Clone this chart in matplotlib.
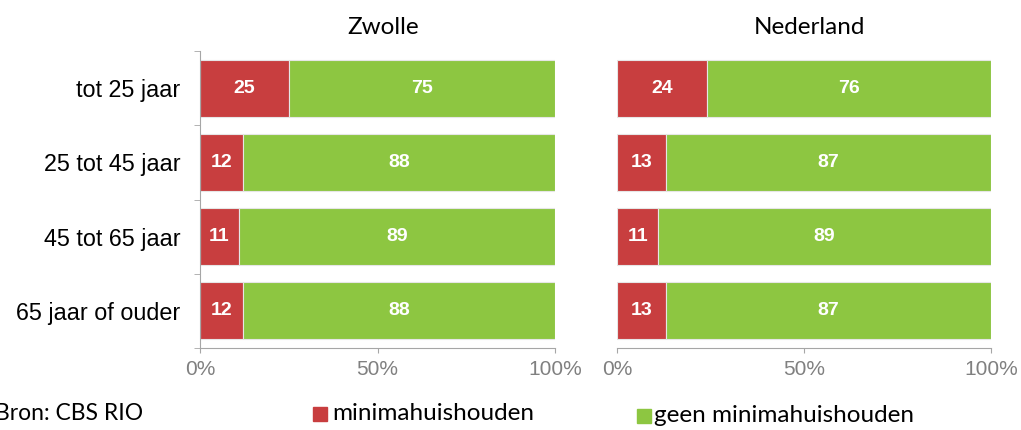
import matplotlib
matplotlib.use("Agg")
import matplotlib.pyplot as plt
import numpy as np

categories = ["tot 25 jaar", "25 tot 45 jaar", "45 tot 65 jaar", "65 jaar of ouder"]
zwolle_min = [25, 12, 11, 12]
zwolle_geen = [75, 88, 89, 88]
nl_min = [24, 13, 11, 13]
nl_geen = [76, 87, 89, 87]
panels = ["Zwolle", "Nederland"]
xticks = [0, 50, 100]
xticklabels = ["0%", "50%", "100%"]

red = "#C83E3F"
green = "#8DC641"
grey = "#A6A6A6"

fig = plt.figure(figsize=(10.21, 4.30), dpi=100)
ax1 = fig.add_axes([200/1021, 1-348/430, 355/1021, 297/430])
ax2 = fig.add_axes([617/1021, 1-348/430, 374/1021, 297/430])

y = np.arange(len(categories))
for ax, title, mins, geens in [(ax1, panels[0], zwolle_min, zwolle_geen),
                               (ax2, panels[1], nl_min, nl_geen)]:
    b1 = ax.barh(y, mins, height=0.77, color=red, edgecolor="#E6E6E6", linewidth=0.8)
    b2 = ax.barh(y, geens, left=mins, height=0.77, color=green, edgecolor="#E6E6E6", linewidth=0.8)
    # waarden in de balken
    for vals, lefts in [(mins, [0]*4), (geens, mins)]:
        for yi, v, l in zip(y, vals, lefts):
            ax.text(l + v/2, yi, str(v), ha="center", va="center", color="white",
                    fontsize=14, fontweight="bold", family="Liberation Sans")
    ax.set_xlim(0, 100)
    ax.set_ylim(3.5, -0.5)
    ax.set_xticks(xticks)
    ax.set_xticklabels(xticklabels, color="#808080", fontsize=15, family="Liberation Sans")
    ax.tick_params(axis="x", length=3.6, color=grey, pad=5)
    for s in ["top", "right"]:
        ax.spines[s].set_visible(False)
    ax.spines["bottom"].set_color(grey)
    ax.spines["left"].set_color(grey)
    ax.set_title(title, fontsize=17.5, family="Lato", pad=12, x=0.515)

ax1.set_yticks(y)
ax1.set_yticklabels(categories, fontsize=16.8, family="Liberation Sans")
ax1.set_yticks(np.arange(-0.5, 4, 1), minor=True)
ax1.tick_params(axis="y", which="major", length=0, pad=14)
ax1.tick_params(axis="y", which="minor", length=4.3, color=grey)

ax2.set_yticks([])
ax2.spines["left"].set_visible(False)

fig.text(-5/1021, 1-413/430, "Bron: CBS RIO", fontsize=16.5, family="Lato", va="center")
fig.patches.append(plt.Rectangle((313/1021, 1-421/430), 14/1021, 14/430, color=red,
                                 transform=fig.transFigure, figure=fig))
fig.text(332/1021, 1-413/430, "minimahuishouden", fontsize=17.5, family="Lato", va="center")
fig.patches.append(plt.Rectangle((637/1021, 1-423/430), 14/1021, 14/430, color=green,
                                 transform=fig.transFigure, figure=fig))
fig.text(654/1021, 1-415/430, "geen minimahuishouden", fontsize=17.5, family="Lato", va="center")

fig.savefig("out.png", dpi=100)
